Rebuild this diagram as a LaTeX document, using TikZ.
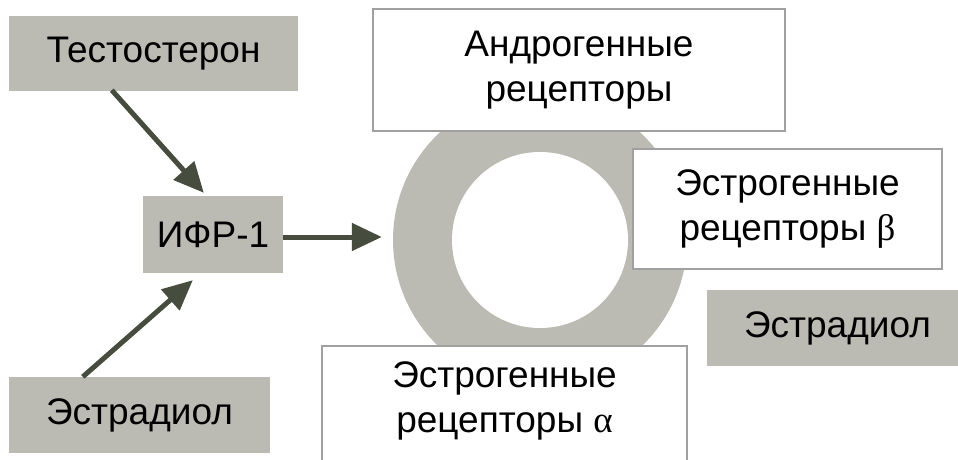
\documentclass[tikz,border=0pt]{standalone}
\usepackage{fontspec}
\setmainfont{Liberation Sans}
\newfontfamily\greekserif{Liberation Serif}
\usetikzlibrary{arrows.meta}
\definecolor{boxgray}{RGB}{187,187,179}
\definecolor{arrowcol}{RGB}{70,76,62}
\definecolor{edgegray}{RGB}{160,160,160}
\tikzset{
  graybox/.style={fill=boxgray, inner sep=0pt, font=\fontsize{37}{45}\selectfont, align=center},
  whitebox/.style={fill=white, draw=edgegray, line width=1.2pt, inner sep=0pt,
                   font=\fontsize{37}{45}\selectfont, align=center},
  arr/.style={draw=arrowcol, line width=5pt,
              -{Triangle[length=30pt,width=27pt]}, arrowcol}
}
\begin{document}
\begin{tikzpicture}[x=1pt,y=1pt]
  \useasboundingbox (0,0) rectangle (958,459);
  \clip (0,0) rectangle (958,459);
  \fill[white] (0,0) rectangle (958,459);

  % receptor ring
  \node[circle, fill=boxgray, minimum size=294pt, inner sep=0pt] (ring) at (540,219) {};
  \node[circle, fill=white, minimum size=176pt, inner sep=0pt] (core) at (ring) {};

  % receptor labels
  \node[whitebox, minimum width=412pt, minimum height=122pt] (ar) at (579,389)
    {Андрогенные\\рецепторы};
  \node[whitebox, minimum width=309pt, minimum height=120pt] (erb) at (787.5,250)
    {Эстрогенные\\рецепторы {\greekserif β}};
  \node[whitebox, minimum width=365pt, minimum height=122pt] (era) at (504.5,52) {};
  \node[font=\fontsize{37}{45}\selectfont, align=center] (eratext) at (504.5,58)
    {Эстрогенные\\рецепторы {\greekserif α}};

  % hormones
  \node[graybox, minimum width=289pt, minimum height=75pt] (test) at (153.5,405.5) {Тестостерон};
  \node[graybox, minimum width=140pt, minimum height=77pt] (ifr) at (213,224.5) {ИФР-1};
  \node[graybox, minimum width=261pt, minimum height=76pt] (estl) at (139.5,44) {Эстрадиол};
  \node[graybox, minimum width=261pt, minimum height=76pt] (estr) at (837.5,131) {Эстрадиол};

  % connectors
  \draw[arr] ([xshift=103pt,yshift=1pt]test.south west) -- ([xshift=61pt,yshift=3pt]ifr.north west);
  \draw[arr] ([xshift=74pt]estl.north west) -- ([xshift=50pt,yshift=-7pt]ifr.south west);
  \draw[arr] ([yshift=-2.5pt]ifr.east) -- ([xshift=-11pt,yshift=3pt]ring.west);
\end{tikzpicture}
\end{document}
